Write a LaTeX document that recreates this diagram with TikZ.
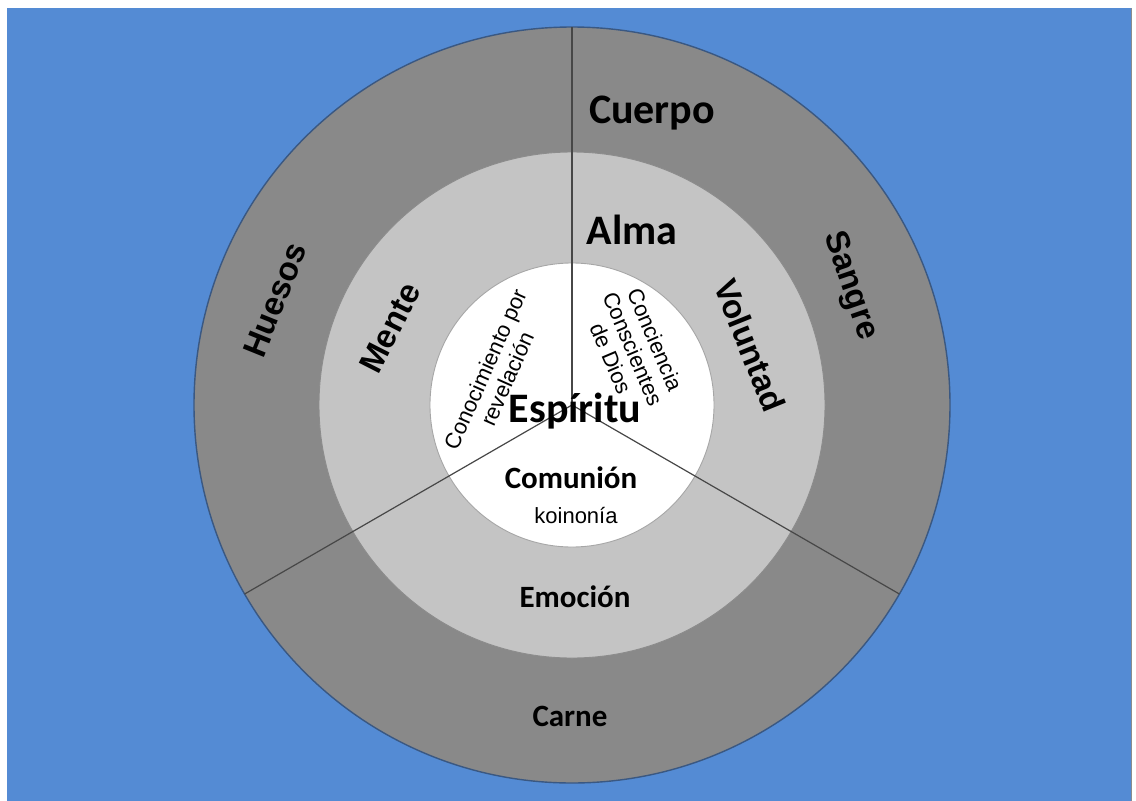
\documentclass[tikz,border=0pt]{standalone}
\usepackage{fontspec}
\setmainfont{Liberation Sans}
\newfontfamily\calib{Carlito}
\usepackage{tikz}
\usetikzlibrary{positioning}
\definecolor{bgblue}{RGB}{84,139,212}
\definecolor{bodygray}{RGB}{137,137,137}
\definecolor{soulgray}{RGB}{196,196,196}
\definecolor{rimblue}{RGB}{58,88,130}
\tikzset{
  ring/.style = {circle, inner sep=0pt, outer sep=0pt},
  divider/.style = {draw=black!72, line width=1.2pt},
  big/.style = {font=\calib\bfseries\fontsize{42}{44}\selectfont},% Calibri-like headings
  mid/.style = {font=\calib\bfseries\fontsize{31}{33}\selectfont},
  arc/.style = {font=\bfseries\fontsize{33}{35}\selectfont},% rotated ring labels
  small/.style = {font=\fontsize{22}{24}\selectfont, align=center}
}
\begin{document}
\begin{tikzpicture}[x=1pt,y=-1pt]
\useasboundingbox (0,0) rectangle (1136,801);
\fill[white] (0,0) rectangle (1136,801);
\fill[bgblue] (7,8) rectangle (1131,801);
\draw[black!45, line width=1pt] (1131,8) -- (1131,801);
% the three rings
\node [ring, fill=bodygray, draw=rimblue, line width=1.4pt, minimum size=756pt] (body) at (572,405) {};
\node [ring, fill=soulgray, draw=black!45, line width=0.9pt, minimum size=506pt] (soul) at (body.center) {};
\node [ring, fill=white, draw=black!35, line width=0.9pt, minimum size=284pt] (spirit) at (body.center) {};
% the Y that cuts them
\draw [divider] (body.center) -- (body.90);
\draw [divider] (body.center) -- (body.210);
\draw [divider] (body.center) -- (body.330);
% body
\node [big, anchor=base] (cuerpo) at (652,123) {Cuerpo};
\node [arc, rotate=68] (huesos) at (275,300) {Huesos};
\node [arc, rotate=-71] (sangre) at (850,286) {Sangre};
\node [mid, anchor=base] (carne) at (570,726) {Carne};
% soul
\node [big, anchor=base] (alma) at (632,244) {Alma};
\node [arc, rotate=63] (mente) at (390,328) {Mente};
\node [arc, rotate=-68] (voluntad) at (750,345) {Voluntad};
\node [mid, anchor=base] (emocion) at (575,607) {Emoción};
% spirit
\node [big, anchor=base] (espiritu) at (575,422) {Espíritu};
\node [small, rotate=66] (conocimiento) at (496,374) {Conocimiento por\\revelación};
\node [small, rotate=-67] (conciencia) at (633,349) {Conciencia\\Conscientes\\de Dios};
\node [mid, anchor=base] (comunion) at (571,488) {Comunión};
\node [small, anchor=base] (koinonia) at (576,523) {koinonía};
\end{tikzpicture}
\end{document}
